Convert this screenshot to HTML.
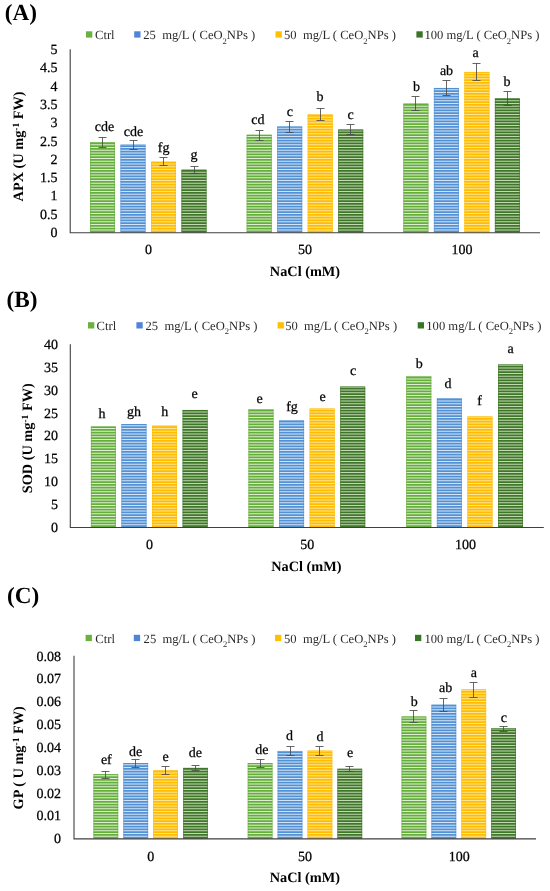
<!DOCTYPE html>
<html><head><meta charset="utf-8"><style>
html,body{margin:0;padding:0;background:#fff;}
body{width:550px;height:891px;overflow:hidden;}
svg{display:block;filter:blur(0.35px);}
text{font-family:"Liberation Serif",serif;fill:#000;text-rendering:geometricPrecision;}
.ttl{font-size:23.2px;font-weight:bold;}
.leg{font-size:12.6px;fill:#2a2a2a;}
.sub{font-size:8.5px;}
.tk{font-size:14px;fill:#000;stroke:#000;stroke-width:0.25px;}
.lt{font-size:14px;fill:#000;stroke:#000;stroke-width:0.25px;}
.ax-t{font-size:14.3px;font-weight:bold;}
.sup{font-size:9.5px;}
.eb{stroke:#4a4a4a;stroke-width:0.85;fill:none;}
.ax{stroke:#404040;stroke-width:1.1;fill:none;}
</style></head><body>
<svg width="550" height="891" viewBox="0 0 550 891">
<text class="ttl" x="4.8" y="20.1">(A)</text>
<rect x="86" y="31.3" width="6.3" height="6.3" fill="#6BB040"/>
<text class="leg" x="95" y="39.3">Ctrl</text>
<rect x="134.2" y="31.3" width="6.3" height="6.3" fill="#4F84D8"/>
<text class="leg" x="143.3" y="39.3">25&#160; mg/L ( CeO<tspan class="sub" dy="4.2">2</tspan><tspan dy="-4.2">NPs )</tspan></text>
<rect x="275.5" y="31.3" width="6.3" height="6.3" fill="#FFC000"/>
<text class="leg" x="284" y="39.3">50&#160; mg/L ( CeO<tspan class="sub" dy="4.2">2</tspan><tspan dy="-4.2">NPs )</tspan></text>
<rect x="416.4" y="31.3" width="6.3" height="6.3" fill="#3A7426"/>
<text class="leg" x="424.4" y="39.3">100 mg/L ( CeO<tspan class="sub" dy="4.2">2</tspan><tspan dy="-4.2">NPs )</tspan></text>
<text class="tk" text-anchor="end" x="57.5" y="236.95">0</text>
<text class="tk" text-anchor="end" x="57.5" y="218.66">0.5</text>
<text class="tk" text-anchor="end" x="57.5" y="200.37">1</text>
<text class="tk" text-anchor="end" x="57.5" y="182.08">1.5</text>
<text class="tk" text-anchor="end" x="57.5" y="163.79">2</text>
<text class="tk" text-anchor="end" x="57.5" y="145.5">2.5</text>
<text class="tk" text-anchor="end" x="57.5" y="127.21">3</text>
<text class="tk" text-anchor="end" x="57.5" y="108.92">3.5</text>
<text class="tk" text-anchor="end" x="57.5" y="90.63">4</text>
<text class="tk" text-anchor="end" x="57.5" y="72.34">4.5</text>
<text class="tk" text-anchor="end" x="57.5" y="54.05">5</text>
<rect x="90" y="142.2" width="25" height="90" fill="#DDEFD2"/><path fill="#66AE3C" d="M90 230.55h25v1.65h-25zM90 227.8h25v1.65h-25zM90 225.05h25v1.65h-25zM90 222.3h25v1.65h-25zM90 219.55h25v1.65h-25zM90 216.8h25v1.65h-25zM90 214.05h25v1.65h-25zM90 211.3h25v1.65h-25zM90 208.55h25v1.65h-25zM90 205.8h25v1.65h-25zM90 203.05h25v1.65h-25zM90 200.3h25v1.65h-25zM90 197.55h25v1.65h-25zM90 194.8h25v1.65h-25zM90 192.05h25v1.65h-25zM90 189.3h25v1.65h-25zM90 186.55h25v1.65h-25zM90 183.8h25v1.65h-25zM90 181.05h25v1.65h-25zM90 178.3h25v1.65h-25zM90 175.55h25v1.65h-25zM90 172.8h25v1.65h-25zM90 170.05h25v1.65h-25zM90 167.3h25v1.65h-25zM90 164.55h25v1.65h-25zM90 161.8h25v1.65h-25zM90 159.05h25v1.65h-25zM90 156.3h25v1.65h-25zM90 153.55h25v1.65h-25zM90 150.8h25v1.65h-25zM90 148.05h25v1.65h-25zM90 145.3h25v1.65h-25zM90 142.55h25v1.65h-25z"/><rect x="90.35" y="142.6" width="24.3" height="89.6" fill="none" stroke="#66AE3C" stroke-width="0.7" stroke-opacity="0.75"/>
<path class="eb" d="M102.5 137.5V147.5M98.5 137.5h8M98.5 147.5h8"/>
<text class="lt" text-anchor="middle" x="104.4" y="131.2">cde</text>
<rect x="120.5" y="144.4" width="25" height="87.8" fill="#D4E4F6"/><path fill="#5291D3" d="M120.5 230.55h25v1.65h-25zM120.5 227.8h25v1.65h-25zM120.5 225.05h25v1.65h-25zM120.5 222.3h25v1.65h-25zM120.5 219.55h25v1.65h-25zM120.5 216.8h25v1.65h-25zM120.5 214.05h25v1.65h-25zM120.5 211.3h25v1.65h-25zM120.5 208.55h25v1.65h-25zM120.5 205.8h25v1.65h-25zM120.5 203.05h25v1.65h-25zM120.5 200.3h25v1.65h-25zM120.5 197.55h25v1.65h-25zM120.5 194.8h25v1.65h-25zM120.5 192.05h25v1.65h-25zM120.5 189.3h25v1.65h-25zM120.5 186.55h25v1.65h-25zM120.5 183.8h25v1.65h-25zM120.5 181.05h25v1.65h-25zM120.5 178.3h25v1.65h-25zM120.5 175.55h25v1.65h-25zM120.5 172.8h25v1.65h-25zM120.5 170.05h25v1.65h-25zM120.5 167.3h25v1.65h-25zM120.5 164.55h25v1.65h-25zM120.5 161.8h25v1.65h-25zM120.5 159.05h25v1.65h-25zM120.5 156.3h25v1.65h-25zM120.5 153.55h25v1.65h-25zM120.5 150.8h25v1.65h-25zM120.5 148.05h25v1.65h-25zM120.5 145.3h25v1.65h-25z"/><rect x="120.85" y="144.8" width="24.3" height="87.4" fill="none" stroke="#5291D3" stroke-width="0.7" stroke-opacity="0.75"/>
<path class="eb" d="M133.5 140.5V149.5M129.5 140.5h8M129.5 149.5h8"/>
<text class="lt" text-anchor="middle" x="133.4" y="136.4">cde</text>
<rect x="151" y="161.7" width="25" height="70.5" fill="#FFE493"/><path fill="#FFBC00" d="M151 230.55h25v1.65h-25zM151 227.8h25v1.65h-25zM151 225.05h25v1.65h-25zM151 222.3h25v1.65h-25zM151 219.55h25v1.65h-25zM151 216.8h25v1.65h-25zM151 214.05h25v1.65h-25zM151 211.3h25v1.65h-25zM151 208.55h25v1.65h-25zM151 205.8h25v1.65h-25zM151 203.05h25v1.65h-25zM151 200.3h25v1.65h-25zM151 197.55h25v1.65h-25zM151 194.8h25v1.65h-25zM151 192.05h25v1.65h-25zM151 189.3h25v1.65h-25zM151 186.55h25v1.65h-25zM151 183.8h25v1.65h-25zM151 181.05h25v1.65h-25zM151 178.3h25v1.65h-25zM151 175.55h25v1.65h-25zM151 172.8h25v1.65h-25zM151 170.05h25v1.65h-25zM151 167.3h25v1.65h-25zM151 164.55h25v1.65h-25zM151 161.8h25v1.65h-25z"/><rect x="151.35" y="162.1" width="24.3" height="70.1" fill="none" stroke="#FFBC00" stroke-width="0.7" stroke-opacity="0.75"/>
<path class="eb" d="M163.5 157.5V165.5M159.5 157.5h8M159.5 165.5h8"/>
<text class="lt" text-anchor="middle" x="163.7" y="151.6">fg</text>
<rect x="181.5" y="169.5" width="25" height="62.7" fill="#C2D8B2"/><path fill="#3F7629" d="M181.5 230.55h25v1.65h-25zM181.5 227.8h25v1.65h-25zM181.5 225.05h25v1.65h-25zM181.5 222.3h25v1.65h-25zM181.5 219.55h25v1.65h-25zM181.5 216.8h25v1.65h-25zM181.5 214.05h25v1.65h-25zM181.5 211.3h25v1.65h-25zM181.5 208.55h25v1.65h-25zM181.5 205.8h25v1.65h-25zM181.5 203.05h25v1.65h-25zM181.5 200.3h25v1.65h-25zM181.5 197.55h25v1.65h-25zM181.5 194.8h25v1.65h-25zM181.5 192.05h25v1.65h-25zM181.5 189.3h25v1.65h-25zM181.5 186.55h25v1.65h-25zM181.5 183.8h25v1.65h-25zM181.5 181.05h25v1.65h-25zM181.5 178.3h25v1.65h-25zM181.5 175.55h25v1.65h-25zM181.5 172.8h25v1.65h-25zM181.5 170.05h25v1.65h-25z"/><rect x="181.85" y="169.9" width="24.3" height="62.3" fill="none" stroke="#3F7629" stroke-width="0.7" stroke-opacity="0.75"/>
<path class="eb" d="M194.5 166.5V173.5M190.5 166.5h8M190.5 173.5h8"/>
<text class="lt" text-anchor="middle" x="194" y="159.1">g</text>
<rect x="246.7" y="134.8" width="25" height="97.4" fill="#DDEFD2"/><path fill="#66AE3C" d="M246.7 230.55h25v1.65h-25zM246.7 227.8h25v1.65h-25zM246.7 225.05h25v1.65h-25zM246.7 222.3h25v1.65h-25zM246.7 219.55h25v1.65h-25zM246.7 216.8h25v1.65h-25zM246.7 214.05h25v1.65h-25zM246.7 211.3h25v1.65h-25zM246.7 208.55h25v1.65h-25zM246.7 205.8h25v1.65h-25zM246.7 203.05h25v1.65h-25zM246.7 200.3h25v1.65h-25zM246.7 197.55h25v1.65h-25zM246.7 194.8h25v1.65h-25zM246.7 192.05h25v1.65h-25zM246.7 189.3h25v1.65h-25zM246.7 186.55h25v1.65h-25zM246.7 183.8h25v1.65h-25zM246.7 181.05h25v1.65h-25zM246.7 178.3h25v1.65h-25zM246.7 175.55h25v1.65h-25zM246.7 172.8h25v1.65h-25zM246.7 170.05h25v1.65h-25zM246.7 167.3h25v1.65h-25zM246.7 164.55h25v1.65h-25zM246.7 161.8h25v1.65h-25zM246.7 159.05h25v1.65h-25zM246.7 156.3h25v1.65h-25zM246.7 153.55h25v1.65h-25zM246.7 150.8h25v1.65h-25zM246.7 148.05h25v1.65h-25zM246.7 145.3h25v1.65h-25zM246.7 142.55h25v1.65h-25zM246.7 139.8h25v1.65h-25zM246.7 137.05h25v1.65h-25zM246.7 134.8h25v1.15h-25z"/><rect x="247.05" y="135.2" width="24.3" height="97" fill="none" stroke="#66AE3C" stroke-width="0.7" stroke-opacity="0.75"/>
<path class="eb" d="M259.5 130.5V140.5M255.5 130.5h8M255.5 140.5h8"/>
<text class="lt" text-anchor="middle" x="257.9" y="123.8">cd</text>
<rect x="277.2" y="126.6" width="25" height="105.6" fill="#D4E4F6"/><path fill="#5291D3" d="M277.2 230.55h25v1.65h-25zM277.2 227.8h25v1.65h-25zM277.2 225.05h25v1.65h-25zM277.2 222.3h25v1.65h-25zM277.2 219.55h25v1.65h-25zM277.2 216.8h25v1.65h-25zM277.2 214.05h25v1.65h-25zM277.2 211.3h25v1.65h-25zM277.2 208.55h25v1.65h-25zM277.2 205.8h25v1.65h-25zM277.2 203.05h25v1.65h-25zM277.2 200.3h25v1.65h-25zM277.2 197.55h25v1.65h-25zM277.2 194.8h25v1.65h-25zM277.2 192.05h25v1.65h-25zM277.2 189.3h25v1.65h-25zM277.2 186.55h25v1.65h-25zM277.2 183.8h25v1.65h-25zM277.2 181.05h25v1.65h-25zM277.2 178.3h25v1.65h-25zM277.2 175.55h25v1.65h-25zM277.2 172.8h25v1.65h-25zM277.2 170.05h25v1.65h-25zM277.2 167.3h25v1.65h-25zM277.2 164.55h25v1.65h-25zM277.2 161.8h25v1.65h-25zM277.2 159.05h25v1.65h-25zM277.2 156.3h25v1.65h-25zM277.2 153.55h25v1.65h-25zM277.2 150.8h25v1.65h-25zM277.2 148.05h25v1.65h-25zM277.2 145.3h25v1.65h-25zM277.2 142.55h25v1.65h-25zM277.2 139.8h25v1.65h-25zM277.2 137.05h25v1.65h-25zM277.2 134.3h25v1.65h-25zM277.2 131.55h25v1.65h-25zM277.2 128.8h25v1.65h-25zM277.2 126.6h25v1.1h-25z"/><rect x="277.55" y="127" width="24.3" height="105.2" fill="none" stroke="#5291D3" stroke-width="0.7" stroke-opacity="0.75"/>
<path class="eb" d="M289.5 121.5V132.5M285.5 121.5h8M285.5 132.5h8"/>
<text class="lt" text-anchor="middle" x="289.9" y="115.8">c</text>
<rect x="307.7" y="114.3" width="25" height="117.9" fill="#FFE493"/><path fill="#FFBC00" d="M307.7 230.55h25v1.65h-25zM307.7 227.8h25v1.65h-25zM307.7 225.05h25v1.65h-25zM307.7 222.3h25v1.65h-25zM307.7 219.55h25v1.65h-25zM307.7 216.8h25v1.65h-25zM307.7 214.05h25v1.65h-25zM307.7 211.3h25v1.65h-25zM307.7 208.55h25v1.65h-25zM307.7 205.8h25v1.65h-25zM307.7 203.05h25v1.65h-25zM307.7 200.3h25v1.65h-25zM307.7 197.55h25v1.65h-25zM307.7 194.8h25v1.65h-25zM307.7 192.05h25v1.65h-25zM307.7 189.3h25v1.65h-25zM307.7 186.55h25v1.65h-25zM307.7 183.8h25v1.65h-25zM307.7 181.05h25v1.65h-25zM307.7 178.3h25v1.65h-25zM307.7 175.55h25v1.65h-25zM307.7 172.8h25v1.65h-25zM307.7 170.05h25v1.65h-25zM307.7 167.3h25v1.65h-25zM307.7 164.55h25v1.65h-25zM307.7 161.8h25v1.65h-25zM307.7 159.05h25v1.65h-25zM307.7 156.3h25v1.65h-25zM307.7 153.55h25v1.65h-25zM307.7 150.8h25v1.65h-25zM307.7 148.05h25v1.65h-25zM307.7 145.3h25v1.65h-25zM307.7 142.55h25v1.65h-25zM307.7 139.8h25v1.65h-25zM307.7 137.05h25v1.65h-25zM307.7 134.3h25v1.65h-25zM307.7 131.55h25v1.65h-25zM307.7 128.8h25v1.65h-25zM307.7 126.05h25v1.65h-25zM307.7 123.3h25v1.65h-25zM307.7 120.55h25v1.65h-25zM307.7 117.8h25v1.65h-25zM307.7 115.05h25v1.65h-25z"/><rect x="308.05" y="114.7" width="24.3" height="117.5" fill="none" stroke="#FFBC00" stroke-width="0.7" stroke-opacity="0.75"/>
<path class="eb" d="M320.5 108.5V120.5M316.5 108.5h8M316.5 120.5h8"/>
<text class="lt" text-anchor="middle" x="320.1" y="100.5">b</text>
<rect x="338.2" y="129.6" width="25" height="102.6" fill="#C2D8B2"/><path fill="#3F7629" d="M338.2 230.55h25v1.65h-25zM338.2 227.8h25v1.65h-25zM338.2 225.05h25v1.65h-25zM338.2 222.3h25v1.65h-25zM338.2 219.55h25v1.65h-25zM338.2 216.8h25v1.65h-25zM338.2 214.05h25v1.65h-25zM338.2 211.3h25v1.65h-25zM338.2 208.55h25v1.65h-25zM338.2 205.8h25v1.65h-25zM338.2 203.05h25v1.65h-25zM338.2 200.3h25v1.65h-25zM338.2 197.55h25v1.65h-25zM338.2 194.8h25v1.65h-25zM338.2 192.05h25v1.65h-25zM338.2 189.3h25v1.65h-25zM338.2 186.55h25v1.65h-25zM338.2 183.8h25v1.65h-25zM338.2 181.05h25v1.65h-25zM338.2 178.3h25v1.65h-25zM338.2 175.55h25v1.65h-25zM338.2 172.8h25v1.65h-25zM338.2 170.05h25v1.65h-25zM338.2 167.3h25v1.65h-25zM338.2 164.55h25v1.65h-25zM338.2 161.8h25v1.65h-25zM338.2 159.05h25v1.65h-25zM338.2 156.3h25v1.65h-25zM338.2 153.55h25v1.65h-25zM338.2 150.8h25v1.65h-25zM338.2 148.05h25v1.65h-25zM338.2 145.3h25v1.65h-25zM338.2 142.55h25v1.65h-25zM338.2 139.8h25v1.65h-25zM338.2 137.05h25v1.65h-25zM338.2 134.3h25v1.65h-25zM338.2 131.55h25v1.65h-25zM338.2 129.6h25v0.85h-25z"/><rect x="338.55" y="130" width="24.3" height="102.2" fill="none" stroke="#3F7629" stroke-width="0.7" stroke-opacity="0.75"/>
<path class="eb" d="M350.5 124.5V134.5M346.5 124.5h8M346.5 134.5h8"/>
<text class="lt" text-anchor="middle" x="350.5" y="118.8">c</text>
<rect x="403.4" y="103.3" width="25" height="128.9" fill="#DDEFD2"/><path fill="#66AE3C" d="M403.4 230.55h25v1.65h-25zM403.4 227.8h25v1.65h-25zM403.4 225.05h25v1.65h-25zM403.4 222.3h25v1.65h-25zM403.4 219.55h25v1.65h-25zM403.4 216.8h25v1.65h-25zM403.4 214.05h25v1.65h-25zM403.4 211.3h25v1.65h-25zM403.4 208.55h25v1.65h-25zM403.4 205.8h25v1.65h-25zM403.4 203.05h25v1.65h-25zM403.4 200.3h25v1.65h-25zM403.4 197.55h25v1.65h-25zM403.4 194.8h25v1.65h-25zM403.4 192.05h25v1.65h-25zM403.4 189.3h25v1.65h-25zM403.4 186.55h25v1.65h-25zM403.4 183.8h25v1.65h-25zM403.4 181.05h25v1.65h-25zM403.4 178.3h25v1.65h-25zM403.4 175.55h25v1.65h-25zM403.4 172.8h25v1.65h-25zM403.4 170.05h25v1.65h-25zM403.4 167.3h25v1.65h-25zM403.4 164.55h25v1.65h-25zM403.4 161.8h25v1.65h-25zM403.4 159.05h25v1.65h-25zM403.4 156.3h25v1.65h-25zM403.4 153.55h25v1.65h-25zM403.4 150.8h25v1.65h-25zM403.4 148.05h25v1.65h-25zM403.4 145.3h25v1.65h-25zM403.4 142.55h25v1.65h-25zM403.4 139.8h25v1.65h-25zM403.4 137.05h25v1.65h-25zM403.4 134.3h25v1.65h-25zM403.4 131.55h25v1.65h-25zM403.4 128.8h25v1.65h-25zM403.4 126.05h25v1.65h-25zM403.4 123.3h25v1.65h-25zM403.4 120.55h25v1.65h-25zM403.4 117.8h25v1.65h-25zM403.4 115.05h25v1.65h-25zM403.4 112.3h25v1.65h-25zM403.4 109.55h25v1.65h-25zM403.4 106.8h25v1.65h-25zM403.4 104.05h25v1.65h-25z"/><rect x="403.75" y="103.7" width="24.3" height="128.5" fill="none" stroke="#66AE3C" stroke-width="0.7" stroke-opacity="0.75"/>
<path class="eb" d="M415.5 96.5V110.5M411.5 96.5h8M411.5 110.5h8"/>
<text class="lt" text-anchor="middle" x="416.4" y="90.6">b</text>
<rect x="433.9" y="87.9" width="25" height="144.3" fill="#D4E4F6"/><path fill="#5291D3" d="M433.9 230.55h25v1.65h-25zM433.9 227.8h25v1.65h-25zM433.9 225.05h25v1.65h-25zM433.9 222.3h25v1.65h-25zM433.9 219.55h25v1.65h-25zM433.9 216.8h25v1.65h-25zM433.9 214.05h25v1.65h-25zM433.9 211.3h25v1.65h-25zM433.9 208.55h25v1.65h-25zM433.9 205.8h25v1.65h-25zM433.9 203.05h25v1.65h-25zM433.9 200.3h25v1.65h-25zM433.9 197.55h25v1.65h-25zM433.9 194.8h25v1.65h-25zM433.9 192.05h25v1.65h-25zM433.9 189.3h25v1.65h-25zM433.9 186.55h25v1.65h-25zM433.9 183.8h25v1.65h-25zM433.9 181.05h25v1.65h-25zM433.9 178.3h25v1.65h-25zM433.9 175.55h25v1.65h-25zM433.9 172.8h25v1.65h-25zM433.9 170.05h25v1.65h-25zM433.9 167.3h25v1.65h-25zM433.9 164.55h25v1.65h-25zM433.9 161.8h25v1.65h-25zM433.9 159.05h25v1.65h-25zM433.9 156.3h25v1.65h-25zM433.9 153.55h25v1.65h-25zM433.9 150.8h25v1.65h-25zM433.9 148.05h25v1.65h-25zM433.9 145.3h25v1.65h-25zM433.9 142.55h25v1.65h-25zM433.9 139.8h25v1.65h-25zM433.9 137.05h25v1.65h-25zM433.9 134.3h25v1.65h-25zM433.9 131.55h25v1.65h-25zM433.9 128.8h25v1.65h-25zM433.9 126.05h25v1.65h-25zM433.9 123.3h25v1.65h-25zM433.9 120.55h25v1.65h-25zM433.9 117.8h25v1.65h-25zM433.9 115.05h25v1.65h-25zM433.9 112.3h25v1.65h-25zM433.9 109.55h25v1.65h-25zM433.9 106.8h25v1.65h-25zM433.9 104.05h25v1.65h-25zM433.9 101.3h25v1.65h-25zM433.9 98.55h25v1.65h-25zM433.9 95.8h25v1.65h-25zM433.9 93.05h25v1.65h-25zM433.9 90.3h25v1.65h-25zM433.9 87.9h25v1.3h-25z"/><rect x="434.25" y="88.3" width="24.3" height="143.9" fill="none" stroke="#5291D3" stroke-width="0.7" stroke-opacity="0.75"/>
<path class="eb" d="M446.5 80.5V95.5M442.5 80.5h8M442.5 95.5h8"/>
<text class="lt" text-anchor="middle" x="446.5" y="75.3">ab</text>
<rect x="464.4" y="71.9" width="25" height="160.3" fill="#FFE493"/><path fill="#FFBC00" d="M464.4 230.55h25v1.65h-25zM464.4 227.8h25v1.65h-25zM464.4 225.05h25v1.65h-25zM464.4 222.3h25v1.65h-25zM464.4 219.55h25v1.65h-25zM464.4 216.8h25v1.65h-25zM464.4 214.05h25v1.65h-25zM464.4 211.3h25v1.65h-25zM464.4 208.55h25v1.65h-25zM464.4 205.8h25v1.65h-25zM464.4 203.05h25v1.65h-25zM464.4 200.3h25v1.65h-25zM464.4 197.55h25v1.65h-25zM464.4 194.8h25v1.65h-25zM464.4 192.05h25v1.65h-25zM464.4 189.3h25v1.65h-25zM464.4 186.55h25v1.65h-25zM464.4 183.8h25v1.65h-25zM464.4 181.05h25v1.65h-25zM464.4 178.3h25v1.65h-25zM464.4 175.55h25v1.65h-25zM464.4 172.8h25v1.65h-25zM464.4 170.05h25v1.65h-25zM464.4 167.3h25v1.65h-25zM464.4 164.55h25v1.65h-25zM464.4 161.8h25v1.65h-25zM464.4 159.05h25v1.65h-25zM464.4 156.3h25v1.65h-25zM464.4 153.55h25v1.65h-25zM464.4 150.8h25v1.65h-25zM464.4 148.05h25v1.65h-25zM464.4 145.3h25v1.65h-25zM464.4 142.55h25v1.65h-25zM464.4 139.8h25v1.65h-25zM464.4 137.05h25v1.65h-25zM464.4 134.3h25v1.65h-25zM464.4 131.55h25v1.65h-25zM464.4 128.8h25v1.65h-25zM464.4 126.05h25v1.65h-25zM464.4 123.3h25v1.65h-25zM464.4 120.55h25v1.65h-25zM464.4 117.8h25v1.65h-25zM464.4 115.05h25v1.65h-25zM464.4 112.3h25v1.65h-25zM464.4 109.55h25v1.65h-25zM464.4 106.8h25v1.65h-25zM464.4 104.05h25v1.65h-25zM464.4 101.3h25v1.65h-25zM464.4 98.55h25v1.65h-25zM464.4 95.8h25v1.65h-25zM464.4 93.05h25v1.65h-25zM464.4 90.3h25v1.65h-25zM464.4 87.55h25v1.65h-25zM464.4 84.8h25v1.65h-25zM464.4 82.05h25v1.65h-25zM464.4 79.3h25v1.65h-25zM464.4 76.55h25v1.65h-25zM464.4 73.8h25v1.65h-25zM464.4 71.9h25v0.8h-25z"/><rect x="464.75" y="72.3" width="24.3" height="159.9" fill="none" stroke="#FFBC00" stroke-width="0.7" stroke-opacity="0.75"/>
<path class="eb" d="M476.5 63.5V80.5M472.5 63.5h8M472.5 80.5h8"/>
<text class="lt" text-anchor="middle" x="475.6" y="57.2">a</text>
<rect x="494.9" y="98.4" width="25" height="133.8" fill="#C2D8B2"/><path fill="#3F7629" d="M494.9 230.55h25v1.65h-25zM494.9 227.8h25v1.65h-25zM494.9 225.05h25v1.65h-25zM494.9 222.3h25v1.65h-25zM494.9 219.55h25v1.65h-25zM494.9 216.8h25v1.65h-25zM494.9 214.05h25v1.65h-25zM494.9 211.3h25v1.65h-25zM494.9 208.55h25v1.65h-25zM494.9 205.8h25v1.65h-25zM494.9 203.05h25v1.65h-25zM494.9 200.3h25v1.65h-25zM494.9 197.55h25v1.65h-25zM494.9 194.8h25v1.65h-25zM494.9 192.05h25v1.65h-25zM494.9 189.3h25v1.65h-25zM494.9 186.55h25v1.65h-25zM494.9 183.8h25v1.65h-25zM494.9 181.05h25v1.65h-25zM494.9 178.3h25v1.65h-25zM494.9 175.55h25v1.65h-25zM494.9 172.8h25v1.65h-25zM494.9 170.05h25v1.65h-25zM494.9 167.3h25v1.65h-25zM494.9 164.55h25v1.65h-25zM494.9 161.8h25v1.65h-25zM494.9 159.05h25v1.65h-25zM494.9 156.3h25v1.65h-25zM494.9 153.55h25v1.65h-25zM494.9 150.8h25v1.65h-25zM494.9 148.05h25v1.65h-25zM494.9 145.3h25v1.65h-25zM494.9 142.55h25v1.65h-25zM494.9 139.8h25v1.65h-25zM494.9 137.05h25v1.65h-25zM494.9 134.3h25v1.65h-25zM494.9 131.55h25v1.65h-25zM494.9 128.8h25v1.65h-25zM494.9 126.05h25v1.65h-25zM494.9 123.3h25v1.65h-25zM494.9 120.55h25v1.65h-25zM494.9 117.8h25v1.65h-25zM494.9 115.05h25v1.65h-25zM494.9 112.3h25v1.65h-25zM494.9 109.55h25v1.65h-25zM494.9 106.8h25v1.65h-25zM494.9 104.05h25v1.65h-25zM494.9 101.3h25v1.65h-25zM494.9 98.55h25v1.65h-25z"/><rect x="495.25" y="98.8" width="24.3" height="133.4" fill="none" stroke="#3F7629" stroke-width="0.7" stroke-opacity="0.75"/>
<path class="eb" d="M507.5 91.5V105.5M503.5 91.5h8M503.5 105.5h8"/>
<text class="lt" text-anchor="middle" x="506.9" y="86.3">b</text>
<path class="ax" d="M70.2 49.3V232.7H540"/>
<text class="tk" text-anchor="middle" x="148.4" y="253.9">0</text>
<text class="tk" text-anchor="middle" x="305" y="253.9">50</text>
<text class="tk" text-anchor="middle" x="462.1" y="253.9">100</text>
<text class="ax-t" text-anchor="middle" x="305" y="276.1">NaCl (mM)</text>
<text class="ax-t" text-anchor="middle" transform="translate(22.8 146.4) rotate(-90)" x="0" y="0">APX (U mg<tspan class="sup" dy="-4.1">-1</tspan><tspan dy="4.1"> FW)</tspan></text>
<text class="ttl" x="6.6" y="306.8">(B)</text>
<rect x="88" y="322.2" width="6.3" height="6.3" fill="#6BB040"/>
<text class="leg" x="96.6" y="329.5">Ctrl</text>
<rect x="136.4" y="322.2" width="6.3" height="6.3" fill="#4F84D8"/>
<text class="leg" x="145.5" y="329.5">25&#160; mg/L ( CeO<tspan class="sub" dy="4.2">2</tspan><tspan dy="-4.2">NPs )</tspan></text>
<rect x="277.6" y="322.2" width="6.3" height="6.3" fill="#FFC000"/>
<text class="leg" x="285.2" y="329.5">50&#160; mg/L ( CeO<tspan class="sub" dy="4.2">2</tspan><tspan dy="-4.2">NPs )</tspan></text>
<rect x="417.7" y="322.2" width="6.3" height="6.3" fill="#3A7426"/>
<text class="leg" x="426.3" y="329.5">100 mg/L ( CeO<tspan class="sub" dy="4.2">2</tspan><tspan dy="-4.2">NPs )</tspan></text>
<text class="tk" text-anchor="end" x="58" y="531.75">0</text>
<text class="tk" text-anchor="end" x="58" y="508.9">5</text>
<text class="tk" text-anchor="end" x="58" y="486.05">10</text>
<text class="tk" text-anchor="end" x="58" y="463.2">15</text>
<text class="tk" text-anchor="end" x="58" y="440.35">20</text>
<text class="tk" text-anchor="end" x="58" y="417.5">25</text>
<text class="tk" text-anchor="end" x="58" y="394.65">30</text>
<text class="tk" text-anchor="end" x="58" y="371.8">35</text>
<text class="tk" text-anchor="end" x="58" y="348.95">40</text>
<rect x="90.9" y="426.5" width="25" height="100.5" fill="#DDEFD2"/><path fill="#66AE3C" d="M90.9 525.35h25v1.65h-25zM90.9 522.6h25v1.65h-25zM90.9 519.85h25v1.65h-25zM90.9 517.1h25v1.65h-25zM90.9 514.35h25v1.65h-25zM90.9 511.6h25v1.65h-25zM90.9 508.85h25v1.65h-25zM90.9 506.1h25v1.65h-25zM90.9 503.35h25v1.65h-25zM90.9 500.6h25v1.65h-25zM90.9 497.85h25v1.65h-25zM90.9 495.1h25v1.65h-25zM90.9 492.35h25v1.65h-25zM90.9 489.6h25v1.65h-25zM90.9 486.85h25v1.65h-25zM90.9 484.1h25v1.65h-25zM90.9 481.35h25v1.65h-25zM90.9 478.6h25v1.65h-25zM90.9 475.85h25v1.65h-25zM90.9 473.1h25v1.65h-25zM90.9 470.35h25v1.65h-25zM90.9 467.6h25v1.65h-25zM90.9 464.85h25v1.65h-25zM90.9 462.1h25v1.65h-25zM90.9 459.35h25v1.65h-25zM90.9 456.6h25v1.65h-25zM90.9 453.85h25v1.65h-25zM90.9 451.1h25v1.65h-25zM90.9 448.35h25v1.65h-25zM90.9 445.6h25v1.65h-25zM90.9 442.85h25v1.65h-25zM90.9 440.1h25v1.65h-25zM90.9 437.35h25v1.65h-25zM90.9 434.6h25v1.65h-25zM90.9 431.85h25v1.65h-25zM90.9 429.1h25v1.65h-25zM90.9 426.5h25v1.5h-25z"/><rect x="91.25" y="426.9" width="24.3" height="100.1" fill="none" stroke="#66AE3C" stroke-width="0.7" stroke-opacity="0.75"/>
<text class="lt" text-anchor="middle" x="102" y="417.5">h</text>
<rect x="121.47" y="424.1" width="25" height="102.9" fill="#D4E4F6"/><path fill="#5291D3" d="M121.47 525.35h25v1.65h-25zM121.47 522.6h25v1.65h-25zM121.47 519.85h25v1.65h-25zM121.47 517.1h25v1.65h-25zM121.47 514.35h25v1.65h-25zM121.47 511.6h25v1.65h-25zM121.47 508.85h25v1.65h-25zM121.47 506.1h25v1.65h-25zM121.47 503.35h25v1.65h-25zM121.47 500.6h25v1.65h-25zM121.47 497.85h25v1.65h-25zM121.47 495.1h25v1.65h-25zM121.47 492.35h25v1.65h-25zM121.47 489.6h25v1.65h-25zM121.47 486.85h25v1.65h-25zM121.47 484.1h25v1.65h-25zM121.47 481.35h25v1.65h-25zM121.47 478.6h25v1.65h-25zM121.47 475.85h25v1.65h-25zM121.47 473.1h25v1.65h-25zM121.47 470.35h25v1.65h-25zM121.47 467.6h25v1.65h-25zM121.47 464.85h25v1.65h-25zM121.47 462.1h25v1.65h-25zM121.47 459.35h25v1.65h-25zM121.47 456.6h25v1.65h-25zM121.47 453.85h25v1.65h-25zM121.47 451.1h25v1.65h-25zM121.47 448.35h25v1.65h-25zM121.47 445.6h25v1.65h-25zM121.47 442.85h25v1.65h-25zM121.47 440.1h25v1.65h-25zM121.47 437.35h25v1.65h-25zM121.47 434.6h25v1.65h-25zM121.47 431.85h25v1.65h-25zM121.47 429.1h25v1.65h-25zM121.47 426.35h25v1.65h-25zM121.47 424.1h25v1.15h-25z"/><rect x="121.82" y="424.5" width="24.3" height="102.5" fill="none" stroke="#5291D3" stroke-width="0.7" stroke-opacity="0.75"/>
<text class="lt" text-anchor="middle" x="133.97" y="416">gh</text>
<rect x="152.04" y="425.5" width="25" height="101.5" fill="#FFE493"/><path fill="#FFBC00" d="M152.04 525.35h25v1.65h-25zM152.04 522.6h25v1.65h-25zM152.04 519.85h25v1.65h-25zM152.04 517.1h25v1.65h-25zM152.04 514.35h25v1.65h-25zM152.04 511.6h25v1.65h-25zM152.04 508.85h25v1.65h-25zM152.04 506.1h25v1.65h-25zM152.04 503.35h25v1.65h-25zM152.04 500.6h25v1.65h-25zM152.04 497.85h25v1.65h-25zM152.04 495.1h25v1.65h-25zM152.04 492.35h25v1.65h-25zM152.04 489.6h25v1.65h-25zM152.04 486.85h25v1.65h-25zM152.04 484.1h25v1.65h-25zM152.04 481.35h25v1.65h-25zM152.04 478.6h25v1.65h-25zM152.04 475.85h25v1.65h-25zM152.04 473.1h25v1.65h-25zM152.04 470.35h25v1.65h-25zM152.04 467.6h25v1.65h-25zM152.04 464.85h25v1.65h-25zM152.04 462.1h25v1.65h-25zM152.04 459.35h25v1.65h-25zM152.04 456.6h25v1.65h-25zM152.04 453.85h25v1.65h-25zM152.04 451.1h25v1.65h-25zM152.04 448.35h25v1.65h-25zM152.04 445.6h25v1.65h-25zM152.04 442.85h25v1.65h-25zM152.04 440.1h25v1.65h-25zM152.04 437.35h25v1.65h-25zM152.04 434.6h25v1.65h-25zM152.04 431.85h25v1.65h-25zM152.04 429.1h25v1.65h-25zM152.04 426.35h25v1.65h-25z"/><rect x="152.39" y="425.9" width="24.3" height="101.1" fill="none" stroke="#FFBC00" stroke-width="0.7" stroke-opacity="0.75"/>
<text class="lt" text-anchor="middle" x="164.74" y="416.2">h</text>
<rect x="182.61" y="409.9" width="25" height="117.1" fill="#C2D8B2"/><path fill="#3F7629" d="M182.61 525.35h25v1.65h-25zM182.61 522.6h25v1.65h-25zM182.61 519.85h25v1.65h-25zM182.61 517.1h25v1.65h-25zM182.61 514.35h25v1.65h-25zM182.61 511.6h25v1.65h-25zM182.61 508.85h25v1.65h-25zM182.61 506.1h25v1.65h-25zM182.61 503.35h25v1.65h-25zM182.61 500.6h25v1.65h-25zM182.61 497.85h25v1.65h-25zM182.61 495.1h25v1.65h-25zM182.61 492.35h25v1.65h-25zM182.61 489.6h25v1.65h-25zM182.61 486.85h25v1.65h-25zM182.61 484.1h25v1.65h-25zM182.61 481.35h25v1.65h-25zM182.61 478.6h25v1.65h-25zM182.61 475.85h25v1.65h-25zM182.61 473.1h25v1.65h-25zM182.61 470.35h25v1.65h-25zM182.61 467.6h25v1.65h-25zM182.61 464.85h25v1.65h-25zM182.61 462.1h25v1.65h-25zM182.61 459.35h25v1.65h-25zM182.61 456.6h25v1.65h-25zM182.61 453.85h25v1.65h-25zM182.61 451.1h25v1.65h-25zM182.61 448.35h25v1.65h-25zM182.61 445.6h25v1.65h-25zM182.61 442.85h25v1.65h-25zM182.61 440.1h25v1.65h-25zM182.61 437.35h25v1.65h-25zM182.61 434.6h25v1.65h-25zM182.61 431.85h25v1.65h-25zM182.61 429.1h25v1.65h-25zM182.61 426.35h25v1.65h-25zM182.61 423.6h25v1.65h-25zM182.61 420.85h25v1.65h-25zM182.61 418.1h25v1.65h-25zM182.61 415.35h25v1.65h-25zM182.61 412.6h25v1.65h-25zM182.61 409.9h25v1.6h-25z"/><rect x="182.96" y="410.3" width="24.3" height="116.7" fill="none" stroke="#3F7629" stroke-width="0.7" stroke-opacity="0.75"/>
<text class="lt" text-anchor="middle" x="194.71" y="398.3">e</text>
<rect x="248.5" y="409.2" width="25" height="117.8" fill="#DDEFD2"/><path fill="#66AE3C" d="M248.5 525.35h25v1.65h-25zM248.5 522.6h25v1.65h-25zM248.5 519.85h25v1.65h-25zM248.5 517.1h25v1.65h-25zM248.5 514.35h25v1.65h-25zM248.5 511.6h25v1.65h-25zM248.5 508.85h25v1.65h-25zM248.5 506.1h25v1.65h-25zM248.5 503.35h25v1.65h-25zM248.5 500.6h25v1.65h-25zM248.5 497.85h25v1.65h-25zM248.5 495.1h25v1.65h-25zM248.5 492.35h25v1.65h-25zM248.5 489.6h25v1.65h-25zM248.5 486.85h25v1.65h-25zM248.5 484.1h25v1.65h-25zM248.5 481.35h25v1.65h-25zM248.5 478.6h25v1.65h-25zM248.5 475.85h25v1.65h-25zM248.5 473.1h25v1.65h-25zM248.5 470.35h25v1.65h-25zM248.5 467.6h25v1.65h-25zM248.5 464.85h25v1.65h-25zM248.5 462.1h25v1.65h-25zM248.5 459.35h25v1.65h-25zM248.5 456.6h25v1.65h-25zM248.5 453.85h25v1.65h-25zM248.5 451.1h25v1.65h-25zM248.5 448.35h25v1.65h-25zM248.5 445.6h25v1.65h-25zM248.5 442.85h25v1.65h-25zM248.5 440.1h25v1.65h-25zM248.5 437.35h25v1.65h-25zM248.5 434.6h25v1.65h-25zM248.5 431.85h25v1.65h-25zM248.5 429.1h25v1.65h-25zM248.5 426.35h25v1.65h-25zM248.5 423.6h25v1.65h-25zM248.5 420.85h25v1.65h-25zM248.5 418.1h25v1.65h-25zM248.5 415.35h25v1.65h-25zM248.5 412.6h25v1.65h-25zM248.5 409.85h25v1.65h-25z"/><rect x="248.85" y="409.6" width="24.3" height="117.4" fill="none" stroke="#66AE3C" stroke-width="0.7" stroke-opacity="0.75"/>
<text class="lt" text-anchor="middle" x="259.6" y="403.3">e</text>
<rect x="279.07" y="420.3" width="25" height="106.7" fill="#D4E4F6"/><path fill="#5291D3" d="M279.07 525.35h25v1.65h-25zM279.07 522.6h25v1.65h-25zM279.07 519.85h25v1.65h-25zM279.07 517.1h25v1.65h-25zM279.07 514.35h25v1.65h-25zM279.07 511.6h25v1.65h-25zM279.07 508.85h25v1.65h-25zM279.07 506.1h25v1.65h-25zM279.07 503.35h25v1.65h-25zM279.07 500.6h25v1.65h-25zM279.07 497.85h25v1.65h-25zM279.07 495.1h25v1.65h-25zM279.07 492.35h25v1.65h-25zM279.07 489.6h25v1.65h-25zM279.07 486.85h25v1.65h-25zM279.07 484.1h25v1.65h-25zM279.07 481.35h25v1.65h-25zM279.07 478.6h25v1.65h-25zM279.07 475.85h25v1.65h-25zM279.07 473.1h25v1.65h-25zM279.07 470.35h25v1.65h-25zM279.07 467.6h25v1.65h-25zM279.07 464.85h25v1.65h-25zM279.07 462.1h25v1.65h-25zM279.07 459.35h25v1.65h-25zM279.07 456.6h25v1.65h-25zM279.07 453.85h25v1.65h-25zM279.07 451.1h25v1.65h-25zM279.07 448.35h25v1.65h-25zM279.07 445.6h25v1.65h-25zM279.07 442.85h25v1.65h-25zM279.07 440.1h25v1.65h-25zM279.07 437.35h25v1.65h-25zM279.07 434.6h25v1.65h-25zM279.07 431.85h25v1.65h-25zM279.07 429.1h25v1.65h-25zM279.07 426.35h25v1.65h-25zM279.07 423.6h25v1.65h-25zM279.07 420.85h25v1.65h-25z"/><rect x="279.42" y="420.7" width="24.3" height="106.3" fill="none" stroke="#5291D3" stroke-width="0.7" stroke-opacity="0.75"/>
<text class="lt" text-anchor="middle" x="291.97" y="411.2">fg</text>
<rect x="309.64" y="408.5" width="25" height="118.5" fill="#FFE493"/><path fill="#FFBC00" d="M309.64 525.35h25v1.65h-25zM309.64 522.6h25v1.65h-25zM309.64 519.85h25v1.65h-25zM309.64 517.1h25v1.65h-25zM309.64 514.35h25v1.65h-25zM309.64 511.6h25v1.65h-25zM309.64 508.85h25v1.65h-25zM309.64 506.1h25v1.65h-25zM309.64 503.35h25v1.65h-25zM309.64 500.6h25v1.65h-25zM309.64 497.85h25v1.65h-25zM309.64 495.1h25v1.65h-25zM309.64 492.35h25v1.65h-25zM309.64 489.6h25v1.65h-25zM309.64 486.85h25v1.65h-25zM309.64 484.1h25v1.65h-25zM309.64 481.35h25v1.65h-25zM309.64 478.6h25v1.65h-25zM309.64 475.85h25v1.65h-25zM309.64 473.1h25v1.65h-25zM309.64 470.35h25v1.65h-25zM309.64 467.6h25v1.65h-25zM309.64 464.85h25v1.65h-25zM309.64 462.1h25v1.65h-25zM309.64 459.35h25v1.65h-25zM309.64 456.6h25v1.65h-25zM309.64 453.85h25v1.65h-25zM309.64 451.1h25v1.65h-25zM309.64 448.35h25v1.65h-25zM309.64 445.6h25v1.65h-25zM309.64 442.85h25v1.65h-25zM309.64 440.1h25v1.65h-25zM309.64 437.35h25v1.65h-25zM309.64 434.6h25v1.65h-25zM309.64 431.85h25v1.65h-25zM309.64 429.1h25v1.65h-25zM309.64 426.35h25v1.65h-25zM309.64 423.6h25v1.65h-25zM309.64 420.85h25v1.65h-25zM309.64 418.1h25v1.65h-25zM309.64 415.35h25v1.65h-25zM309.64 412.6h25v1.65h-25zM309.64 409.85h25v1.65h-25zM309.64 408.5h25v0.25h-25z"/><rect x="309.99" y="408.9" width="24.3" height="118.1" fill="none" stroke="#FFBC00" stroke-width="0.7" stroke-opacity="0.75"/>
<text class="lt" text-anchor="middle" x="322.54" y="400.6">e</text>
<rect x="340.21" y="386.5" width="25" height="140.5" fill="#C2D8B2"/><path fill="#3F7629" d="M340.21 525.35h25v1.65h-25zM340.21 522.6h25v1.65h-25zM340.21 519.85h25v1.65h-25zM340.21 517.1h25v1.65h-25zM340.21 514.35h25v1.65h-25zM340.21 511.6h25v1.65h-25zM340.21 508.85h25v1.65h-25zM340.21 506.1h25v1.65h-25zM340.21 503.35h25v1.65h-25zM340.21 500.6h25v1.65h-25zM340.21 497.85h25v1.65h-25zM340.21 495.1h25v1.65h-25zM340.21 492.35h25v1.65h-25zM340.21 489.6h25v1.65h-25zM340.21 486.85h25v1.65h-25zM340.21 484.1h25v1.65h-25zM340.21 481.35h25v1.65h-25zM340.21 478.6h25v1.65h-25zM340.21 475.85h25v1.65h-25zM340.21 473.1h25v1.65h-25zM340.21 470.35h25v1.65h-25zM340.21 467.6h25v1.65h-25zM340.21 464.85h25v1.65h-25zM340.21 462.1h25v1.65h-25zM340.21 459.35h25v1.65h-25zM340.21 456.6h25v1.65h-25zM340.21 453.85h25v1.65h-25zM340.21 451.1h25v1.65h-25zM340.21 448.35h25v1.65h-25zM340.21 445.6h25v1.65h-25zM340.21 442.85h25v1.65h-25zM340.21 440.1h25v1.65h-25zM340.21 437.35h25v1.65h-25zM340.21 434.6h25v1.65h-25zM340.21 431.85h25v1.65h-25zM340.21 429.1h25v1.65h-25zM340.21 426.35h25v1.65h-25zM340.21 423.6h25v1.65h-25zM340.21 420.85h25v1.65h-25zM340.21 418.1h25v1.65h-25zM340.21 415.35h25v1.65h-25zM340.21 412.6h25v1.65h-25zM340.21 409.85h25v1.65h-25zM340.21 407.1h25v1.65h-25zM340.21 404.35h25v1.65h-25zM340.21 401.6h25v1.65h-25zM340.21 398.85h25v1.65h-25zM340.21 396.1h25v1.65h-25zM340.21 393.35h25v1.65h-25zM340.21 390.6h25v1.65h-25zM340.21 387.85h25v1.65h-25zM340.21 386.5h25v0.25h-25z"/><rect x="340.56" y="386.9" width="24.3" height="140.1" fill="none" stroke="#3F7629" stroke-width="0.7" stroke-opacity="0.75"/>
<text class="lt" text-anchor="middle" x="353.01" y="374.9">c</text>
<rect x="406.3" y="375.9" width="25" height="151.1" fill="#DDEFD2"/><path fill="#66AE3C" d="M406.3 525.35h25v1.65h-25zM406.3 522.6h25v1.65h-25zM406.3 519.85h25v1.65h-25zM406.3 517.1h25v1.65h-25zM406.3 514.35h25v1.65h-25zM406.3 511.6h25v1.65h-25zM406.3 508.85h25v1.65h-25zM406.3 506.1h25v1.65h-25zM406.3 503.35h25v1.65h-25zM406.3 500.6h25v1.65h-25zM406.3 497.85h25v1.65h-25zM406.3 495.1h25v1.65h-25zM406.3 492.35h25v1.65h-25zM406.3 489.6h25v1.65h-25zM406.3 486.85h25v1.65h-25zM406.3 484.1h25v1.65h-25zM406.3 481.35h25v1.65h-25zM406.3 478.6h25v1.65h-25zM406.3 475.85h25v1.65h-25zM406.3 473.1h25v1.65h-25zM406.3 470.35h25v1.65h-25zM406.3 467.6h25v1.65h-25zM406.3 464.85h25v1.65h-25zM406.3 462.1h25v1.65h-25zM406.3 459.35h25v1.65h-25zM406.3 456.6h25v1.65h-25zM406.3 453.85h25v1.65h-25zM406.3 451.1h25v1.65h-25zM406.3 448.35h25v1.65h-25zM406.3 445.6h25v1.65h-25zM406.3 442.85h25v1.65h-25zM406.3 440.1h25v1.65h-25zM406.3 437.35h25v1.65h-25zM406.3 434.6h25v1.65h-25zM406.3 431.85h25v1.65h-25zM406.3 429.1h25v1.65h-25zM406.3 426.35h25v1.65h-25zM406.3 423.6h25v1.65h-25zM406.3 420.85h25v1.65h-25zM406.3 418.1h25v1.65h-25zM406.3 415.35h25v1.65h-25zM406.3 412.6h25v1.65h-25zM406.3 409.85h25v1.65h-25zM406.3 407.1h25v1.65h-25zM406.3 404.35h25v1.65h-25zM406.3 401.6h25v1.65h-25zM406.3 398.85h25v1.65h-25zM406.3 396.1h25v1.65h-25zM406.3 393.35h25v1.65h-25zM406.3 390.6h25v1.65h-25zM406.3 387.85h25v1.65h-25zM406.3 385.1h25v1.65h-25zM406.3 382.35h25v1.65h-25zM406.3 379.6h25v1.65h-25zM406.3 376.85h25v1.65h-25z"/><rect x="406.65" y="376.3" width="24.3" height="150.7" fill="none" stroke="#66AE3C" stroke-width="0.7" stroke-opacity="0.75"/>
<text class="lt" text-anchor="middle" x="419.2" y="367.7">b</text>
<rect x="436.87" y="398.2" width="25" height="128.8" fill="#D4E4F6"/><path fill="#5291D3" d="M436.87 525.35h25v1.65h-25zM436.87 522.6h25v1.65h-25zM436.87 519.85h25v1.65h-25zM436.87 517.1h25v1.65h-25zM436.87 514.35h25v1.65h-25zM436.87 511.6h25v1.65h-25zM436.87 508.85h25v1.65h-25zM436.87 506.1h25v1.65h-25zM436.87 503.35h25v1.65h-25zM436.87 500.6h25v1.65h-25zM436.87 497.85h25v1.65h-25zM436.87 495.1h25v1.65h-25zM436.87 492.35h25v1.65h-25zM436.87 489.6h25v1.65h-25zM436.87 486.85h25v1.65h-25zM436.87 484.1h25v1.65h-25zM436.87 481.35h25v1.65h-25zM436.87 478.6h25v1.65h-25zM436.87 475.85h25v1.65h-25zM436.87 473.1h25v1.65h-25zM436.87 470.35h25v1.65h-25zM436.87 467.6h25v1.65h-25zM436.87 464.85h25v1.65h-25zM436.87 462.1h25v1.65h-25zM436.87 459.35h25v1.65h-25zM436.87 456.6h25v1.65h-25zM436.87 453.85h25v1.65h-25zM436.87 451.1h25v1.65h-25zM436.87 448.35h25v1.65h-25zM436.87 445.6h25v1.65h-25zM436.87 442.85h25v1.65h-25zM436.87 440.1h25v1.65h-25zM436.87 437.35h25v1.65h-25zM436.87 434.6h25v1.65h-25zM436.87 431.85h25v1.65h-25zM436.87 429.1h25v1.65h-25zM436.87 426.35h25v1.65h-25zM436.87 423.6h25v1.65h-25zM436.87 420.85h25v1.65h-25zM436.87 418.1h25v1.65h-25zM436.87 415.35h25v1.65h-25zM436.87 412.6h25v1.65h-25zM436.87 409.85h25v1.65h-25zM436.87 407.1h25v1.65h-25zM436.87 404.35h25v1.65h-25zM436.87 401.6h25v1.65h-25zM436.87 398.85h25v1.65h-25z"/><rect x="437.22" y="398.6" width="24.3" height="128.4" fill="none" stroke="#5291D3" stroke-width="0.7" stroke-opacity="0.75"/>
<text class="lt" text-anchor="middle" x="448.07" y="388.2">d</text>
<rect x="467.44" y="416.6" width="25" height="110.4" fill="#FFE493"/><path fill="#FFBC00" d="M467.44 525.35h25v1.65h-25zM467.44 522.6h25v1.65h-25zM467.44 519.85h25v1.65h-25zM467.44 517.1h25v1.65h-25zM467.44 514.35h25v1.65h-25zM467.44 511.6h25v1.65h-25zM467.44 508.85h25v1.65h-25zM467.44 506.1h25v1.65h-25zM467.44 503.35h25v1.65h-25zM467.44 500.6h25v1.65h-25zM467.44 497.85h25v1.65h-25zM467.44 495.1h25v1.65h-25zM467.44 492.35h25v1.65h-25zM467.44 489.6h25v1.65h-25zM467.44 486.85h25v1.65h-25zM467.44 484.1h25v1.65h-25zM467.44 481.35h25v1.65h-25zM467.44 478.6h25v1.65h-25zM467.44 475.85h25v1.65h-25zM467.44 473.1h25v1.65h-25zM467.44 470.35h25v1.65h-25zM467.44 467.6h25v1.65h-25zM467.44 464.85h25v1.65h-25zM467.44 462.1h25v1.65h-25zM467.44 459.35h25v1.65h-25zM467.44 456.6h25v1.65h-25zM467.44 453.85h25v1.65h-25zM467.44 451.1h25v1.65h-25zM467.44 448.35h25v1.65h-25zM467.44 445.6h25v1.65h-25zM467.44 442.85h25v1.65h-25zM467.44 440.1h25v1.65h-25zM467.44 437.35h25v1.65h-25zM467.44 434.6h25v1.65h-25zM467.44 431.85h25v1.65h-25zM467.44 429.1h25v1.65h-25zM467.44 426.35h25v1.65h-25zM467.44 423.6h25v1.65h-25zM467.44 420.85h25v1.65h-25zM467.44 418.1h25v1.65h-25zM467.44 416.6h25v0.4h-25z"/><rect x="467.79" y="417" width="24.3" height="110" fill="none" stroke="#FFBC00" stroke-width="0.7" stroke-opacity="0.75"/>
<text class="lt" text-anchor="middle" x="479.64" y="405.3">f</text>
<rect x="498.01" y="364.4" width="25" height="162.6" fill="#C2D8B2"/><path fill="#3F7629" d="M498.01 525.35h25v1.65h-25zM498.01 522.6h25v1.65h-25zM498.01 519.85h25v1.65h-25zM498.01 517.1h25v1.65h-25zM498.01 514.35h25v1.65h-25zM498.01 511.6h25v1.65h-25zM498.01 508.85h25v1.65h-25zM498.01 506.1h25v1.65h-25zM498.01 503.35h25v1.65h-25zM498.01 500.6h25v1.65h-25zM498.01 497.85h25v1.65h-25zM498.01 495.1h25v1.65h-25zM498.01 492.35h25v1.65h-25zM498.01 489.6h25v1.65h-25zM498.01 486.85h25v1.65h-25zM498.01 484.1h25v1.65h-25zM498.01 481.35h25v1.65h-25zM498.01 478.6h25v1.65h-25zM498.01 475.85h25v1.65h-25zM498.01 473.1h25v1.65h-25zM498.01 470.35h25v1.65h-25zM498.01 467.6h25v1.65h-25zM498.01 464.85h25v1.65h-25zM498.01 462.1h25v1.65h-25zM498.01 459.35h25v1.65h-25zM498.01 456.6h25v1.65h-25zM498.01 453.85h25v1.65h-25zM498.01 451.1h25v1.65h-25zM498.01 448.35h25v1.65h-25zM498.01 445.6h25v1.65h-25zM498.01 442.85h25v1.65h-25zM498.01 440.1h25v1.65h-25zM498.01 437.35h25v1.65h-25zM498.01 434.6h25v1.65h-25zM498.01 431.85h25v1.65h-25zM498.01 429.1h25v1.65h-25zM498.01 426.35h25v1.65h-25zM498.01 423.6h25v1.65h-25zM498.01 420.85h25v1.65h-25zM498.01 418.1h25v1.65h-25zM498.01 415.35h25v1.65h-25zM498.01 412.6h25v1.65h-25zM498.01 409.85h25v1.65h-25zM498.01 407.1h25v1.65h-25zM498.01 404.35h25v1.65h-25zM498.01 401.6h25v1.65h-25zM498.01 398.85h25v1.65h-25zM498.01 396.1h25v1.65h-25zM498.01 393.35h25v1.65h-25zM498.01 390.6h25v1.65h-25zM498.01 387.85h25v1.65h-25zM498.01 385.1h25v1.65h-25zM498.01 382.35h25v1.65h-25zM498.01 379.6h25v1.65h-25zM498.01 376.85h25v1.65h-25zM498.01 374.1h25v1.65h-25zM498.01 371.35h25v1.65h-25zM498.01 368.6h25v1.65h-25zM498.01 365.85h25v1.65h-25zM498.01 364.4h25v0.35h-25z"/><rect x="498.36" y="364.8" width="24.3" height="162.2" fill="none" stroke="#3F7629" stroke-width="0.7" stroke-opacity="0.75"/>
<text class="lt" text-anchor="middle" x="510.71" y="353.3">a</text>
<path class="ax" d="M70.3 344.2V527.5H543.8"/>
<text class="tk" text-anchor="middle" x="149.4" y="549.1">0</text>
<text class="tk" text-anchor="middle" x="307.2" y="549.1">50</text>
<text class="tk" text-anchor="middle" x="465.4" y="549.1">100</text>
<text class="ax-t" text-anchor="middle" x="306.4" y="570.7">NaCl (mM)</text>
<text class="ax-t" text-anchor="middle" transform="translate(31.9 438.3) rotate(-90)" x="0" y="0">SOD (U mg<tspan class="sup" dy="-4.1">-1</tspan><tspan dy="4.1"> FW)</tspan></text>
<text class="ttl" x="7" y="602.8">(C)</text>
<rect x="85.6" y="634.8" width="6.3" height="6.3" fill="#6BB040"/>
<text class="leg" x="95.3" y="642.5">Ctrl</text>
<rect x="133.8" y="634.8" width="6.3" height="6.3" fill="#4F84D8"/>
<text class="leg" x="143.6" y="642.5">25&#160; mg/L ( CeO<tspan class="sub" dy="4.2">2</tspan><tspan dy="-4.2">NPs )</tspan></text>
<rect x="275" y="634.8" width="6.3" height="6.3" fill="#FFC000"/>
<text class="leg" x="284" y="642.5">50&#160; mg/L ( CeO<tspan class="sub" dy="4.2">2</tspan><tspan dy="-4.2">NPs )</tspan></text>
<rect x="415" y="634.8" width="6.3" height="6.3" fill="#3A7426"/>
<text class="leg" x="424.5" y="642.5">100 mg/L ( CeO<tspan class="sub" dy="4.2">2</tspan><tspan dy="-4.2">NPs )</tspan></text>
<text class="tk" text-anchor="end" x="61" y="843.15">0</text>
<text class="tk" text-anchor="end" x="61" y="820.32">0.01</text>
<text class="tk" text-anchor="end" x="61" y="797.5">0.02</text>
<text class="tk" text-anchor="end" x="61" y="774.67">0.03</text>
<text class="tk" text-anchor="end" x="61" y="751.85">0.04</text>
<text class="tk" text-anchor="end" x="61" y="729.02">0.05</text>
<text class="tk" text-anchor="end" x="61" y="706.2">0.06</text>
<text class="tk" text-anchor="end" x="61" y="683.38">0.07</text>
<text class="tk" text-anchor="end" x="61" y="660.55">0.08</text>
<rect x="93.5" y="774.2" width="24.7" height="64.2" fill="#DDEFD2"/><path fill="#66AE3C" d="M93.5 836.75h24.7v1.65h-24.7zM93.5 834h24.7v1.65h-24.7zM93.5 831.25h24.7v1.65h-24.7zM93.5 828.5h24.7v1.65h-24.7zM93.5 825.75h24.7v1.65h-24.7zM93.5 823h24.7v1.65h-24.7zM93.5 820.25h24.7v1.65h-24.7zM93.5 817.5h24.7v1.65h-24.7zM93.5 814.75h24.7v1.65h-24.7zM93.5 812h24.7v1.65h-24.7zM93.5 809.25h24.7v1.65h-24.7zM93.5 806.5h24.7v1.65h-24.7zM93.5 803.75h24.7v1.65h-24.7zM93.5 801h24.7v1.65h-24.7zM93.5 798.25h24.7v1.65h-24.7zM93.5 795.5h24.7v1.65h-24.7zM93.5 792.75h24.7v1.65h-24.7zM93.5 790h24.7v1.65h-24.7zM93.5 787.25h24.7v1.65h-24.7zM93.5 784.5h24.7v1.65h-24.7zM93.5 781.75h24.7v1.65h-24.7zM93.5 779h24.7v1.65h-24.7zM93.5 776.25h24.7v1.65h-24.7zM93.5 774.2h24.7v0.95h-24.7z"/><rect x="93.85" y="774.6" width="24" height="63.8" fill="none" stroke="#66AE3C" stroke-width="0.7" stroke-opacity="0.75"/>
<path class="eb" d="M105.5 771.5V778.5M101.5 771.5h8M101.5 778.5h8"/>
<text class="lt" text-anchor="middle" x="106.35" y="763.8">ef</text>
<rect x="123.4" y="763.1" width="24.7" height="75.3" fill="#D4E4F6"/><path fill="#5291D3" d="M123.4 836.75h24.7v1.65h-24.7zM123.4 834h24.7v1.65h-24.7zM123.4 831.25h24.7v1.65h-24.7zM123.4 828.5h24.7v1.65h-24.7zM123.4 825.75h24.7v1.65h-24.7zM123.4 823h24.7v1.65h-24.7zM123.4 820.25h24.7v1.65h-24.7zM123.4 817.5h24.7v1.65h-24.7zM123.4 814.75h24.7v1.65h-24.7zM123.4 812h24.7v1.65h-24.7zM123.4 809.25h24.7v1.65h-24.7zM123.4 806.5h24.7v1.65h-24.7zM123.4 803.75h24.7v1.65h-24.7zM123.4 801h24.7v1.65h-24.7zM123.4 798.25h24.7v1.65h-24.7zM123.4 795.5h24.7v1.65h-24.7zM123.4 792.75h24.7v1.65h-24.7zM123.4 790h24.7v1.65h-24.7zM123.4 787.25h24.7v1.65h-24.7zM123.4 784.5h24.7v1.65h-24.7zM123.4 781.75h24.7v1.65h-24.7zM123.4 779h24.7v1.65h-24.7zM123.4 776.25h24.7v1.65h-24.7zM123.4 773.5h24.7v1.65h-24.7zM123.4 770.75h24.7v1.65h-24.7zM123.4 768h24.7v1.65h-24.7zM123.4 765.25h24.7v1.65h-24.7zM123.4 763.1h24.7v1.05h-24.7z"/><rect x="123.75" y="763.5" width="24" height="74.9" fill="none" stroke="#5291D3" stroke-width="0.7" stroke-opacity="0.75"/>
<path class="eb" d="M135.5 759.5V767.5M131.5 759.5h8M131.5 767.5h8"/>
<text class="lt" text-anchor="middle" x="135.65" y="755.5">de</text>
<rect x="153.3" y="770.2" width="24.7" height="68.2" fill="#FFE493"/><path fill="#FFBC00" d="M153.3 836.75h24.7v1.65h-24.7zM153.3 834h24.7v1.65h-24.7zM153.3 831.25h24.7v1.65h-24.7zM153.3 828.5h24.7v1.65h-24.7zM153.3 825.75h24.7v1.65h-24.7zM153.3 823h24.7v1.65h-24.7zM153.3 820.25h24.7v1.65h-24.7zM153.3 817.5h24.7v1.65h-24.7zM153.3 814.75h24.7v1.65h-24.7zM153.3 812h24.7v1.65h-24.7zM153.3 809.25h24.7v1.65h-24.7zM153.3 806.5h24.7v1.65h-24.7zM153.3 803.75h24.7v1.65h-24.7zM153.3 801h24.7v1.65h-24.7zM153.3 798.25h24.7v1.65h-24.7zM153.3 795.5h24.7v1.65h-24.7zM153.3 792.75h24.7v1.65h-24.7zM153.3 790h24.7v1.65h-24.7zM153.3 787.25h24.7v1.65h-24.7zM153.3 784.5h24.7v1.65h-24.7zM153.3 781.75h24.7v1.65h-24.7zM153.3 779h24.7v1.65h-24.7zM153.3 776.25h24.7v1.65h-24.7zM153.3 773.5h24.7v1.65h-24.7zM153.3 770.75h24.7v1.65h-24.7z"/><rect x="153.65" y="770.6" width="24" height="67.8" fill="none" stroke="#FFBC00" stroke-width="0.7" stroke-opacity="0.75"/>
<path class="eb" d="M165.5 766.5V774.5M161.5 766.5h8M161.5 774.5h8"/>
<text class="lt" text-anchor="middle" x="165.65" y="761.2">e</text>
<rect x="183.2" y="767.8" width="24.7" height="70.6" fill="#C2D8B2"/><path fill="#3F7629" d="M183.2 836.75h24.7v1.65h-24.7zM183.2 834h24.7v1.65h-24.7zM183.2 831.25h24.7v1.65h-24.7zM183.2 828.5h24.7v1.65h-24.7zM183.2 825.75h24.7v1.65h-24.7zM183.2 823h24.7v1.65h-24.7zM183.2 820.25h24.7v1.65h-24.7zM183.2 817.5h24.7v1.65h-24.7zM183.2 814.75h24.7v1.65h-24.7zM183.2 812h24.7v1.65h-24.7zM183.2 809.25h24.7v1.65h-24.7zM183.2 806.5h24.7v1.65h-24.7zM183.2 803.75h24.7v1.65h-24.7zM183.2 801h24.7v1.65h-24.7zM183.2 798.25h24.7v1.65h-24.7zM183.2 795.5h24.7v1.65h-24.7zM183.2 792.75h24.7v1.65h-24.7zM183.2 790h24.7v1.65h-24.7zM183.2 787.25h24.7v1.65h-24.7zM183.2 784.5h24.7v1.65h-24.7zM183.2 781.75h24.7v1.65h-24.7zM183.2 779h24.7v1.65h-24.7zM183.2 776.25h24.7v1.65h-24.7zM183.2 773.5h24.7v1.65h-24.7zM183.2 770.75h24.7v1.65h-24.7zM183.2 768h24.7v1.65h-24.7z"/><rect x="183.55" y="768.2" width="24" height="70.2" fill="none" stroke="#3F7629" stroke-width="0.7" stroke-opacity="0.75"/>
<path class="eb" d="M195.5 765.5V770.5M191.5 765.5h8M191.5 770.5h8"/>
<text class="lt" text-anchor="middle" x="195.45" y="757.3">de</text>
<rect x="247.75" y="763.1" width="24.7" height="75.3" fill="#DDEFD2"/><path fill="#66AE3C" d="M247.75 836.75h24.7v1.65h-24.7zM247.75 834h24.7v1.65h-24.7zM247.75 831.25h24.7v1.65h-24.7zM247.75 828.5h24.7v1.65h-24.7zM247.75 825.75h24.7v1.65h-24.7zM247.75 823h24.7v1.65h-24.7zM247.75 820.25h24.7v1.65h-24.7zM247.75 817.5h24.7v1.65h-24.7zM247.75 814.75h24.7v1.65h-24.7zM247.75 812h24.7v1.65h-24.7zM247.75 809.25h24.7v1.65h-24.7zM247.75 806.5h24.7v1.65h-24.7zM247.75 803.75h24.7v1.65h-24.7zM247.75 801h24.7v1.65h-24.7zM247.75 798.25h24.7v1.65h-24.7zM247.75 795.5h24.7v1.65h-24.7zM247.75 792.75h24.7v1.65h-24.7zM247.75 790h24.7v1.65h-24.7zM247.75 787.25h24.7v1.65h-24.7zM247.75 784.5h24.7v1.65h-24.7zM247.75 781.75h24.7v1.65h-24.7zM247.75 779h24.7v1.65h-24.7zM247.75 776.25h24.7v1.65h-24.7zM247.75 773.5h24.7v1.65h-24.7zM247.75 770.75h24.7v1.65h-24.7zM247.75 768h24.7v1.65h-24.7zM247.75 765.25h24.7v1.65h-24.7zM247.75 763.1h24.7v1.05h-24.7z"/><rect x="248.1" y="763.5" width="24" height="74.9" fill="none" stroke="#66AE3C" stroke-width="0.7" stroke-opacity="0.75"/>
<path class="eb" d="M260.5 759.5V767.5M256.5 759.5h8M256.5 767.5h8"/>
<text class="lt" text-anchor="middle" x="261.8" y="754">de</text>
<rect x="277.65" y="750.9" width="24.7" height="87.5" fill="#D4E4F6"/><path fill="#5291D3" d="M277.65 836.75h24.7v1.65h-24.7zM277.65 834h24.7v1.65h-24.7zM277.65 831.25h24.7v1.65h-24.7zM277.65 828.5h24.7v1.65h-24.7zM277.65 825.75h24.7v1.65h-24.7zM277.65 823h24.7v1.65h-24.7zM277.65 820.25h24.7v1.65h-24.7zM277.65 817.5h24.7v1.65h-24.7zM277.65 814.75h24.7v1.65h-24.7zM277.65 812h24.7v1.65h-24.7zM277.65 809.25h24.7v1.65h-24.7zM277.65 806.5h24.7v1.65h-24.7zM277.65 803.75h24.7v1.65h-24.7zM277.65 801h24.7v1.65h-24.7zM277.65 798.25h24.7v1.65h-24.7zM277.65 795.5h24.7v1.65h-24.7zM277.65 792.75h24.7v1.65h-24.7zM277.65 790h24.7v1.65h-24.7zM277.65 787.25h24.7v1.65h-24.7zM277.65 784.5h24.7v1.65h-24.7zM277.65 781.75h24.7v1.65h-24.7zM277.65 779h24.7v1.65h-24.7zM277.65 776.25h24.7v1.65h-24.7zM277.65 773.5h24.7v1.65h-24.7zM277.65 770.75h24.7v1.65h-24.7zM277.65 768h24.7v1.65h-24.7zM277.65 765.25h24.7v1.65h-24.7zM277.65 762.5h24.7v1.65h-24.7zM277.65 759.75h24.7v1.65h-24.7zM277.65 757h24.7v1.65h-24.7zM277.65 754.25h24.7v1.65h-24.7zM277.65 751.5h24.7v1.65h-24.7z"/><rect x="278" y="751.3" width="24" height="87.1" fill="none" stroke="#5291D3" stroke-width="0.7" stroke-opacity="0.75"/>
<path class="eb" d="M290.5 746.5V755.5M286.5 746.5h8M286.5 755.5h8"/>
<text class="lt" text-anchor="middle" x="289.5" y="739.8">d</text>
<rect x="307.55" y="750.4" width="24.7" height="88" fill="#FFE493"/><path fill="#FFBC00" d="M307.55 836.75h24.7v1.65h-24.7zM307.55 834h24.7v1.65h-24.7zM307.55 831.25h24.7v1.65h-24.7zM307.55 828.5h24.7v1.65h-24.7zM307.55 825.75h24.7v1.65h-24.7zM307.55 823h24.7v1.65h-24.7zM307.55 820.25h24.7v1.65h-24.7zM307.55 817.5h24.7v1.65h-24.7zM307.55 814.75h24.7v1.65h-24.7zM307.55 812h24.7v1.65h-24.7zM307.55 809.25h24.7v1.65h-24.7zM307.55 806.5h24.7v1.65h-24.7zM307.55 803.75h24.7v1.65h-24.7zM307.55 801h24.7v1.65h-24.7zM307.55 798.25h24.7v1.65h-24.7zM307.55 795.5h24.7v1.65h-24.7zM307.55 792.75h24.7v1.65h-24.7zM307.55 790h24.7v1.65h-24.7zM307.55 787.25h24.7v1.65h-24.7zM307.55 784.5h24.7v1.65h-24.7zM307.55 781.75h24.7v1.65h-24.7zM307.55 779h24.7v1.65h-24.7zM307.55 776.25h24.7v1.65h-24.7zM307.55 773.5h24.7v1.65h-24.7zM307.55 770.75h24.7v1.65h-24.7zM307.55 768h24.7v1.65h-24.7zM307.55 765.25h24.7v1.65h-24.7zM307.55 762.5h24.7v1.65h-24.7zM307.55 759.75h24.7v1.65h-24.7zM307.55 757h24.7v1.65h-24.7zM307.55 754.25h24.7v1.65h-24.7zM307.55 751.5h24.7v1.65h-24.7z"/><rect x="307.9" y="750.8" width="24" height="87.6" fill="none" stroke="#FFBC00" stroke-width="0.7" stroke-opacity="0.75"/>
<path class="eb" d="M319.5 746.5V755.5M315.5 746.5h8M315.5 755.5h8"/>
<text class="lt" text-anchor="middle" x="319.9" y="741.3">d</text>
<rect x="337.45" y="768.8" width="24.7" height="69.6" fill="#C2D8B2"/><path fill="#3F7629" d="M337.45 836.75h24.7v1.65h-24.7zM337.45 834h24.7v1.65h-24.7zM337.45 831.25h24.7v1.65h-24.7zM337.45 828.5h24.7v1.65h-24.7zM337.45 825.75h24.7v1.65h-24.7zM337.45 823h24.7v1.65h-24.7zM337.45 820.25h24.7v1.65h-24.7zM337.45 817.5h24.7v1.65h-24.7zM337.45 814.75h24.7v1.65h-24.7zM337.45 812h24.7v1.65h-24.7zM337.45 809.25h24.7v1.65h-24.7zM337.45 806.5h24.7v1.65h-24.7zM337.45 803.75h24.7v1.65h-24.7zM337.45 801h24.7v1.65h-24.7zM337.45 798.25h24.7v1.65h-24.7zM337.45 795.5h24.7v1.65h-24.7zM337.45 792.75h24.7v1.65h-24.7zM337.45 790h24.7v1.65h-24.7zM337.45 787.25h24.7v1.65h-24.7zM337.45 784.5h24.7v1.65h-24.7zM337.45 781.75h24.7v1.65h-24.7zM337.45 779h24.7v1.65h-24.7zM337.45 776.25h24.7v1.65h-24.7zM337.45 773.5h24.7v1.65h-24.7zM337.45 770.75h24.7v1.65h-24.7zM337.45 768.8h24.7v0.85h-24.7z"/><rect x="337.8" y="769.2" width="24" height="69.2" fill="none" stroke="#3F7629" stroke-width="0.7" stroke-opacity="0.75"/>
<path class="eb" d="M349.5 766.5V771.5M345.5 766.5h8M345.5 771.5h8"/>
<text class="lt" text-anchor="middle" x="350" y="757.3">e</text>
<rect x="401.6" y="716.5" width="24.7" height="121.9" fill="#DDEFD2"/><path fill="#66AE3C" d="M401.6 836.75h24.7v1.65h-24.7zM401.6 834h24.7v1.65h-24.7zM401.6 831.25h24.7v1.65h-24.7zM401.6 828.5h24.7v1.65h-24.7zM401.6 825.75h24.7v1.65h-24.7zM401.6 823h24.7v1.65h-24.7zM401.6 820.25h24.7v1.65h-24.7zM401.6 817.5h24.7v1.65h-24.7zM401.6 814.75h24.7v1.65h-24.7zM401.6 812h24.7v1.65h-24.7zM401.6 809.25h24.7v1.65h-24.7zM401.6 806.5h24.7v1.65h-24.7zM401.6 803.75h24.7v1.65h-24.7zM401.6 801h24.7v1.65h-24.7zM401.6 798.25h24.7v1.65h-24.7zM401.6 795.5h24.7v1.65h-24.7zM401.6 792.75h24.7v1.65h-24.7zM401.6 790h24.7v1.65h-24.7zM401.6 787.25h24.7v1.65h-24.7zM401.6 784.5h24.7v1.65h-24.7zM401.6 781.75h24.7v1.65h-24.7zM401.6 779h24.7v1.65h-24.7zM401.6 776.25h24.7v1.65h-24.7zM401.6 773.5h24.7v1.65h-24.7zM401.6 770.75h24.7v1.65h-24.7zM401.6 768h24.7v1.65h-24.7zM401.6 765.25h24.7v1.65h-24.7zM401.6 762.5h24.7v1.65h-24.7zM401.6 759.75h24.7v1.65h-24.7zM401.6 757h24.7v1.65h-24.7zM401.6 754.25h24.7v1.65h-24.7zM401.6 751.5h24.7v1.65h-24.7zM401.6 748.75h24.7v1.65h-24.7zM401.6 746h24.7v1.65h-24.7zM401.6 743.25h24.7v1.65h-24.7zM401.6 740.5h24.7v1.65h-24.7zM401.6 737.75h24.7v1.65h-24.7zM401.6 735h24.7v1.65h-24.7zM401.6 732.25h24.7v1.65h-24.7zM401.6 729.5h24.7v1.65h-24.7zM401.6 726.75h24.7v1.65h-24.7zM401.6 724h24.7v1.65h-24.7zM401.6 721.25h24.7v1.65h-24.7zM401.6 718.5h24.7v1.65h-24.7zM401.6 716.5h24.7v0.9h-24.7z"/><rect x="401.95" y="716.9" width="24" height="121.5" fill="none" stroke="#66AE3C" stroke-width="0.7" stroke-opacity="0.75"/>
<path class="eb" d="M413.5 710.5V722.5M409.5 710.5h8M409.5 722.5h8"/>
<text class="lt" text-anchor="middle" x="414.35" y="706">b</text>
<rect x="431.5" y="704.7" width="24.7" height="133.7" fill="#D4E4F6"/><path fill="#5291D3" d="M431.5 836.75h24.7v1.65h-24.7zM431.5 834h24.7v1.65h-24.7zM431.5 831.25h24.7v1.65h-24.7zM431.5 828.5h24.7v1.65h-24.7zM431.5 825.75h24.7v1.65h-24.7zM431.5 823h24.7v1.65h-24.7zM431.5 820.25h24.7v1.65h-24.7zM431.5 817.5h24.7v1.65h-24.7zM431.5 814.75h24.7v1.65h-24.7zM431.5 812h24.7v1.65h-24.7zM431.5 809.25h24.7v1.65h-24.7zM431.5 806.5h24.7v1.65h-24.7zM431.5 803.75h24.7v1.65h-24.7zM431.5 801h24.7v1.65h-24.7zM431.5 798.25h24.7v1.65h-24.7zM431.5 795.5h24.7v1.65h-24.7zM431.5 792.75h24.7v1.65h-24.7zM431.5 790h24.7v1.65h-24.7zM431.5 787.25h24.7v1.65h-24.7zM431.5 784.5h24.7v1.65h-24.7zM431.5 781.75h24.7v1.65h-24.7zM431.5 779h24.7v1.65h-24.7zM431.5 776.25h24.7v1.65h-24.7zM431.5 773.5h24.7v1.65h-24.7zM431.5 770.75h24.7v1.65h-24.7zM431.5 768h24.7v1.65h-24.7zM431.5 765.25h24.7v1.65h-24.7zM431.5 762.5h24.7v1.65h-24.7zM431.5 759.75h24.7v1.65h-24.7zM431.5 757h24.7v1.65h-24.7zM431.5 754.25h24.7v1.65h-24.7zM431.5 751.5h24.7v1.65h-24.7zM431.5 748.75h24.7v1.65h-24.7zM431.5 746h24.7v1.65h-24.7zM431.5 743.25h24.7v1.65h-24.7zM431.5 740.5h24.7v1.65h-24.7zM431.5 737.75h24.7v1.65h-24.7zM431.5 735h24.7v1.65h-24.7zM431.5 732.25h24.7v1.65h-24.7zM431.5 729.5h24.7v1.65h-24.7zM431.5 726.75h24.7v1.65h-24.7zM431.5 724h24.7v1.65h-24.7zM431.5 721.25h24.7v1.65h-24.7zM431.5 718.5h24.7v1.65h-24.7zM431.5 715.75h24.7v1.65h-24.7zM431.5 713h24.7v1.65h-24.7zM431.5 710.25h24.7v1.65h-24.7zM431.5 707.5h24.7v1.65h-24.7zM431.5 704.75h24.7v1.65h-24.7z"/><rect x="431.85" y="705.1" width="24" height="133.3" fill="none" stroke="#5291D3" stroke-width="0.7" stroke-opacity="0.75"/>
<path class="eb" d="M443.5 698.5V711.5M439.5 698.5h8M439.5 711.5h8"/>
<text class="lt" text-anchor="middle" x="445.55" y="692">ab</text>
<rect x="461.4" y="689.5" width="24.7" height="148.9" fill="#FFE493"/><path fill="#FFBC00" d="M461.4 836.75h24.7v1.65h-24.7zM461.4 834h24.7v1.65h-24.7zM461.4 831.25h24.7v1.65h-24.7zM461.4 828.5h24.7v1.65h-24.7zM461.4 825.75h24.7v1.65h-24.7zM461.4 823h24.7v1.65h-24.7zM461.4 820.25h24.7v1.65h-24.7zM461.4 817.5h24.7v1.65h-24.7zM461.4 814.75h24.7v1.65h-24.7zM461.4 812h24.7v1.65h-24.7zM461.4 809.25h24.7v1.65h-24.7zM461.4 806.5h24.7v1.65h-24.7zM461.4 803.75h24.7v1.65h-24.7zM461.4 801h24.7v1.65h-24.7zM461.4 798.25h24.7v1.65h-24.7zM461.4 795.5h24.7v1.65h-24.7zM461.4 792.75h24.7v1.65h-24.7zM461.4 790h24.7v1.65h-24.7zM461.4 787.25h24.7v1.65h-24.7zM461.4 784.5h24.7v1.65h-24.7zM461.4 781.75h24.7v1.65h-24.7zM461.4 779h24.7v1.65h-24.7zM461.4 776.25h24.7v1.65h-24.7zM461.4 773.5h24.7v1.65h-24.7zM461.4 770.75h24.7v1.65h-24.7zM461.4 768h24.7v1.65h-24.7zM461.4 765.25h24.7v1.65h-24.7zM461.4 762.5h24.7v1.65h-24.7zM461.4 759.75h24.7v1.65h-24.7zM461.4 757h24.7v1.65h-24.7zM461.4 754.25h24.7v1.65h-24.7zM461.4 751.5h24.7v1.65h-24.7zM461.4 748.75h24.7v1.65h-24.7zM461.4 746h24.7v1.65h-24.7zM461.4 743.25h24.7v1.65h-24.7zM461.4 740.5h24.7v1.65h-24.7zM461.4 737.75h24.7v1.65h-24.7zM461.4 735h24.7v1.65h-24.7zM461.4 732.25h24.7v1.65h-24.7zM461.4 729.5h24.7v1.65h-24.7zM461.4 726.75h24.7v1.65h-24.7zM461.4 724h24.7v1.65h-24.7zM461.4 721.25h24.7v1.65h-24.7zM461.4 718.5h24.7v1.65h-24.7zM461.4 715.75h24.7v1.65h-24.7zM461.4 713h24.7v1.65h-24.7zM461.4 710.25h24.7v1.65h-24.7zM461.4 707.5h24.7v1.65h-24.7zM461.4 704.75h24.7v1.65h-24.7zM461.4 702h24.7v1.65h-24.7zM461.4 699.25h24.7v1.65h-24.7zM461.4 696.5h24.7v1.65h-24.7zM461.4 693.75h24.7v1.65h-24.7zM461.4 691h24.7v1.65h-24.7zM461.4 689.5h24.7v0.4h-24.7z"/><rect x="461.75" y="689.9" width="24" height="148.5" fill="none" stroke="#FFBC00" stroke-width="0.7" stroke-opacity="0.75"/>
<path class="eb" d="M473.5 682.5V697.5M469.5 682.5h8M469.5 697.5h8"/>
<text class="lt" text-anchor="middle" x="473.85" y="676.6">a</text>
<rect x="491.3" y="728.2" width="24.7" height="110.2" fill="#C2D8B2"/><path fill="#3F7629" d="M491.3 836.75h24.7v1.65h-24.7zM491.3 834h24.7v1.65h-24.7zM491.3 831.25h24.7v1.65h-24.7zM491.3 828.5h24.7v1.65h-24.7zM491.3 825.75h24.7v1.65h-24.7zM491.3 823h24.7v1.65h-24.7zM491.3 820.25h24.7v1.65h-24.7zM491.3 817.5h24.7v1.65h-24.7zM491.3 814.75h24.7v1.65h-24.7zM491.3 812h24.7v1.65h-24.7zM491.3 809.25h24.7v1.65h-24.7zM491.3 806.5h24.7v1.65h-24.7zM491.3 803.75h24.7v1.65h-24.7zM491.3 801h24.7v1.65h-24.7zM491.3 798.25h24.7v1.65h-24.7zM491.3 795.5h24.7v1.65h-24.7zM491.3 792.75h24.7v1.65h-24.7zM491.3 790h24.7v1.65h-24.7zM491.3 787.25h24.7v1.65h-24.7zM491.3 784.5h24.7v1.65h-24.7zM491.3 781.75h24.7v1.65h-24.7zM491.3 779h24.7v1.65h-24.7zM491.3 776.25h24.7v1.65h-24.7zM491.3 773.5h24.7v1.65h-24.7zM491.3 770.75h24.7v1.65h-24.7zM491.3 768h24.7v1.65h-24.7zM491.3 765.25h24.7v1.65h-24.7zM491.3 762.5h24.7v1.65h-24.7zM491.3 759.75h24.7v1.65h-24.7zM491.3 757h24.7v1.65h-24.7zM491.3 754.25h24.7v1.65h-24.7zM491.3 751.5h24.7v1.65h-24.7zM491.3 748.75h24.7v1.65h-24.7zM491.3 746h24.7v1.65h-24.7zM491.3 743.25h24.7v1.65h-24.7zM491.3 740.5h24.7v1.65h-24.7zM491.3 737.75h24.7v1.65h-24.7zM491.3 735h24.7v1.65h-24.7zM491.3 732.25h24.7v1.65h-24.7zM491.3 729.5h24.7v1.65h-24.7zM491.3 728.2h24.7v0.2h-24.7z"/><rect x="491.65" y="728.6" width="24" height="109.8" fill="none" stroke="#3F7629" stroke-width="0.7" stroke-opacity="0.75"/>
<path class="eb" d="M503.5 726.5V731.5M499.5 726.5h8M499.5 731.5h8"/>
<text class="lt" text-anchor="middle" x="503.75" y="722">c</text>
<path class="ax" d="M74 655.8V838.9H536"/>
<text class="tk" text-anchor="middle" x="150.7" y="860.6">0</text>
<text class="tk" text-anchor="middle" x="305" y="860.6">50</text>
<text class="tk" text-anchor="middle" x="459.3" y="860.6">100</text>
<text class="ax-t" text-anchor="middle" x="304.8" y="881.9">NaCl (mM)</text>
<text class="ax-t" text-anchor="middle" transform="translate(22.8 757.8) rotate(-90)" x="0" y="0">GP ( U mg<tspan class="sup" dy="-4.1">-1</tspan><tspan dy="4.1"> FW)</tspan></text>
</svg>
</body></html>
